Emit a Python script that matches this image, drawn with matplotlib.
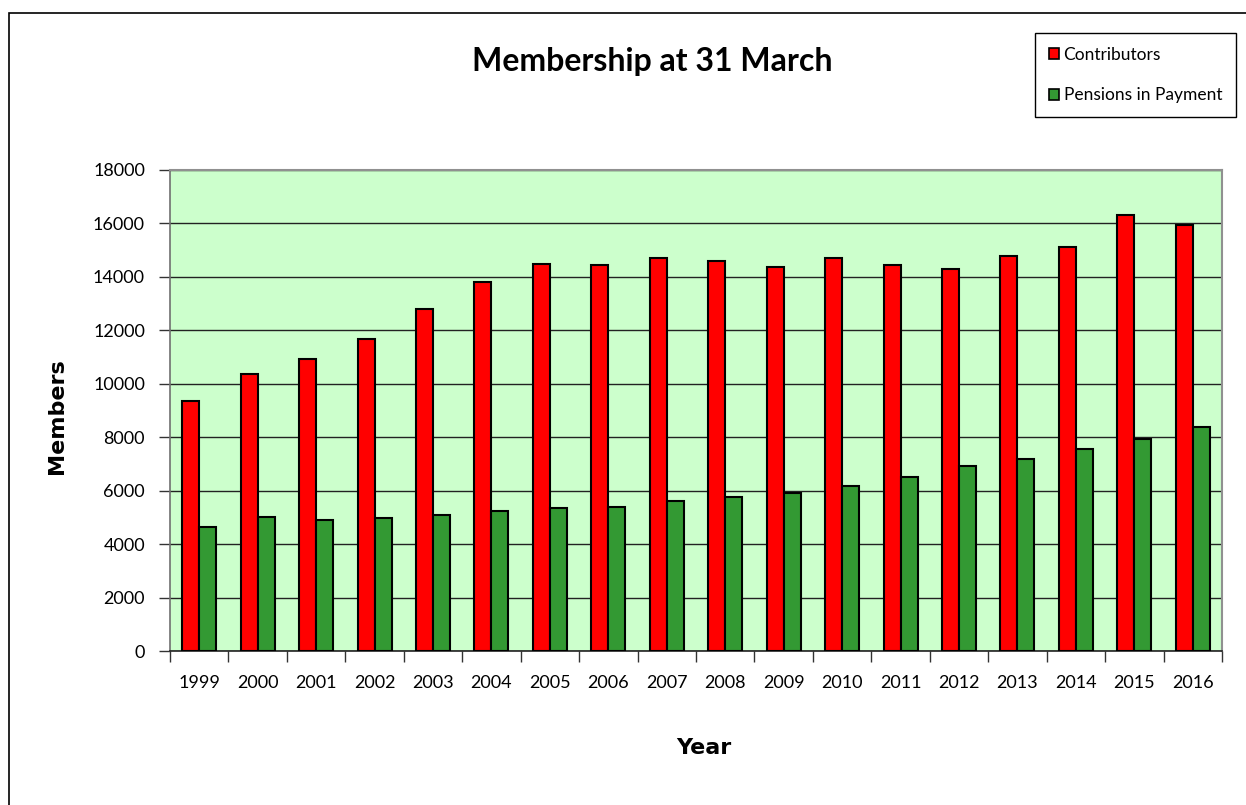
import numpy as np
import matplotlib.pyplot as plt
from matplotlib.patches import Patch, Rectangle

years = ['1999', '2000', '2001', '2002', '2003', '2004', '2005', '2006', '2007',
         '2008', '2009', '2010', '2011', '2012', '2013', '2014', '2015', '2016']
contributors = [9370, 10350, 10930, 11690, 12800, 13800, 14470, 14430, 14720,
                14580, 14380, 14720, 14430, 14300, 14770, 15110, 16300, 15960]
pensions = [4650, 5030, 4890, 4990, 5080, 5230, 5360, 5400, 5610,
            5750, 5930, 6190, 6520, 6910, 7190, 7570, 7930, 8380]

W, H = 1246, 805
fig = plt.figure(figsize=(W / 100, H / 100), dpi=100)
ax = fig.add_axes([170 / W, 154 / H, 1052 / W, 481 / H])

x = np.arange(len(years))
w = 0.29
ax.bar(x - w / 2, contributors, w, color='#ff0000', edgecolor='black', linewidth=1.5, zorder=3)
ax.bar(x + w / 2, pensions, w, color='#339933', edgecolor='black', linewidth=1.5, zorder=3)

ax.set_xlim(-0.5, len(years) - 0.5)
ax.set_ylim(0, 18000)
ax.set_yticks(range(0, 18001, 2000))
ax.set_facecolor('#ccffcc')
ax.grid(axis='y', color='#222222', linewidth=1.0)
ax.set_axisbelow(True)

# ticks between the years, labels in the middle
ax.set_xticks(np.arange(-0.5, len(years)))
ax.set_xticks(x, minor=True)
ax.set_xticklabels(years, minor=True)
ax.tick_params(axis='x', which='major', labelbottom=False, length=8, width=1, color='#333333')
ax.tick_params(axis='x', which='minor', length=0, pad=17)
ax.tick_params(axis='y', length=8, width=1, color='#333333', pad=10)
for lab in ax.get_xticklabels(minor=True) + ax.get_yticklabels():
    lab.set_family('Lato')
    lab.set_fontsize(13)

for s in ['top', 'right']:
    ax.spines[s].set_color('#909090')
    ax.spines[s].set_linewidth(1.5)
ax.spines['left'].set_color('#707070')
ax.spines['left'].set_linewidth(1.2)
ax.spines['bottom'].set_color('#222222')
ax.spines['bottom'].set_linewidth(1.2)

fig.text(652 / W, 1 - 62 / H, 'Membership at 31 March', ha='center', va='center',
         fontsize=23, fontweight='bold', family='Lato')
fig.text(57 / W, 1 - 416 / H, 'Members', rotation=90, ha='center', va='center',
         fontsize=16, fontweight='bold')
fig.text(704 / W, 1 - 748 / H, 'Year', ha='center', va='center',
         fontsize=16, fontweight='bold')

handles = [Patch(facecolor='#ff0000', edgecolor='black', linewidth=1.2),
           Patch(facecolor='#339933', edgecolor='black', linewidth=1.2)]
leg = fig.legend(handles, ['Contributors', 'Pensions in Payment'],
                 loc='upper right', bbox_to_anchor=(1236 / W, 1 - 33 / H),
                 bbox_transform=fig.transFigure, borderaxespad=0, fancybox=False,
                 framealpha=1, edgecolor='black', handlelength=0.6, handleheight=0.6,
                 handletextpad=0.25, labelspacing=1.4, borderpad=0.8,
                 prop={'family': 'Lato', 'size': 12.5})
leg.get_frame().set_linewidth(1.0)

# outer chart frame (only left and top edges show)
fig.add_artist(Rectangle((9 / W, -0.1), 1.2, 1.1 - 13 / H, transform=fig.transFigure,
                         fill=False, edgecolor='black', linewidth=1.2))

fig.savefig('out.png', dpi=100)
